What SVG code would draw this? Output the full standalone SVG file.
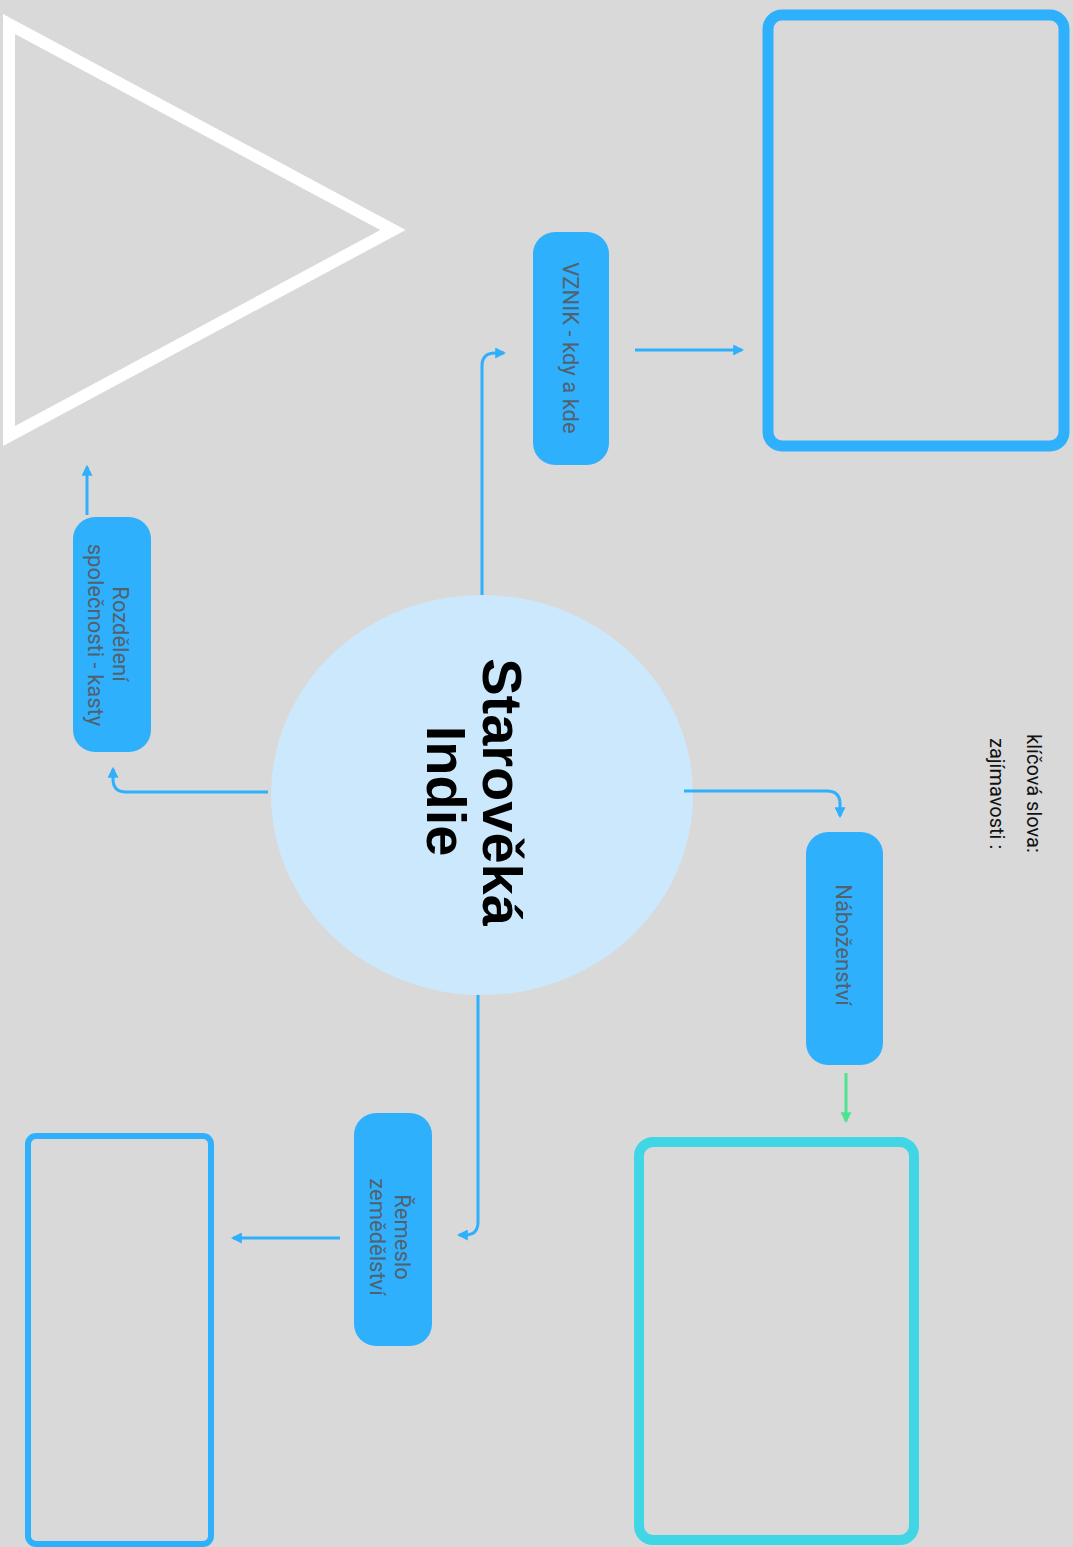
<svg xmlns="http://www.w3.org/2000/svg" width="1073" height="1547" viewBox="0 0 1073 1547">
<defs>
<style>
.pill{fill:#2fb0fd}
.lbl{font-family:Roboto,"Liberation Sans",sans-serif;font-size:22px;fill:#52616d;text-anchor:middle}
.note{font-family:Roboto,"Liberation Sans",sans-serif;font-size:20px;fill:#111}
.title{font-family:"Liberation Sans",Arial,sans-serif;font-size:56px;font-weight:bold;fill:#000;text-anchor:middle}
.con{fill:none;stroke:#2fb0fd;stroke-width:3}
.box{fill:none;stroke:#2fb0fd}
</style>
<marker id="ah" viewBox="0 0 10 10" refX="8" refY="5" markerWidth="11" markerHeight="11" markerUnits="userSpaceOnUse" orient="auto">
<path d="M0,0 L10,5 L0,10 z" fill="#2fb0fd"/>
</marker>
<marker id="ahg" viewBox="0 0 10 10" refX="8" refY="5" markerWidth="11" markerHeight="11" markerUnits="userSpaceOnUse" orient="auto">
<path d="M0,0 L10,5 L0,10 z" fill="#4fe391"/>
</marker>
</defs>
<rect width="1073" height="1547" fill="#d9d9d9"/>

<g id="triangle">
<polygon points="9,24 393,230 9,436" fill="none" stroke="#ffffff" stroke-width="12"/>
</g>

<g id="box-top-right">
<rect class="box" x="768" y="15" width="296" height="431" rx="14" stroke-width="11"/>
</g>
<g id="box-bottom-right">
<rect x="639" y="1142" width="275" height="398" rx="14" fill="none" stroke="#41d6e6" stroke-width="10"/>
</g>
<g id="box-bottom-left">
<rect class="box" x="28" y="1136" width="183" height="408" rx="8" stroke-width="6"/>
</g>

<g id="center">
<ellipse cx="482" cy="795" rx="211" ry="200" fill="#cce8fc"/>
<text class="title" transform="translate(483,792) rotate(90)">Starověká</text>
<text class="title" transform="translate(427,791) rotate(90)">Indie</text>
</g>

<g id="node-vznik">
<rect class="pill" x="533" y="232" width="76" height="233" rx="22"/>
<text class="lbl" transform="translate(563,348) rotate(90)">VZNIK - kdy a kde</text>
</g>

<g id="node-rozdeleni">
<rect class="pill" x="73" y="517" width="78" height="235" rx="22"/>
<text class="lbl" transform="translate(113,634) rotate(90)">Rozdělení</text>
<text class="lbl" transform="translate(88,635) rotate(90)">společnosti - kasty</text>
</g>

<g id="node-nabozenstvi">
<rect class="pill" x="806" y="832" width="77" height="233" rx="22"/>
<text class="lbl" transform="translate(836,945) rotate(90)">Náboženství</text>
</g>

<g id="node-remeslo">
<rect class="pill" x="354" y="1113" width="78" height="233" rx="22"/>
<text class="lbl" transform="translate(395,1237) rotate(90)">Řemeslo</text>
<text class="lbl" transform="translate(370,1237) rotate(90)">zemědělství</text>
</g>

<g id="notes">
<text class="note" transform="translate(1027,734) rotate(90)">klíčová slova:</text>
<text class="note" transform="translate(990,738) rotate(90)">zajímavosti :</text>
</g>

<g id="connectors">
<path class="con" d="M482,595 V366 Q482,353 495,353 H504" marker-end="url(#ah)"/>
<path class="con" d="M635,350 H742" marker-end="url(#ah)"/>
<path class="con" d="M268,792 H126 Q113,792 113,779 V769" marker-end="url(#ah)"/>
<path class="con" d="M87,515 V467" marker-end="url(#ah)"/>
<path class="con" d="M684,791 H827 Q840,791 840,804 V816" marker-end="url(#ah)"/>
<path d="M846,1073 V1121" fill="none" stroke="#4fe391" stroke-width="3" marker-end="url(#ahg)"/>
<path class="con" d="M478,995 V1222 Q478,1235 465,1235 H459" marker-end="url(#ah)"/>
<path class="con" d="M340,1238 H233" marker-end="url(#ah)"/>
</g>
</svg>
